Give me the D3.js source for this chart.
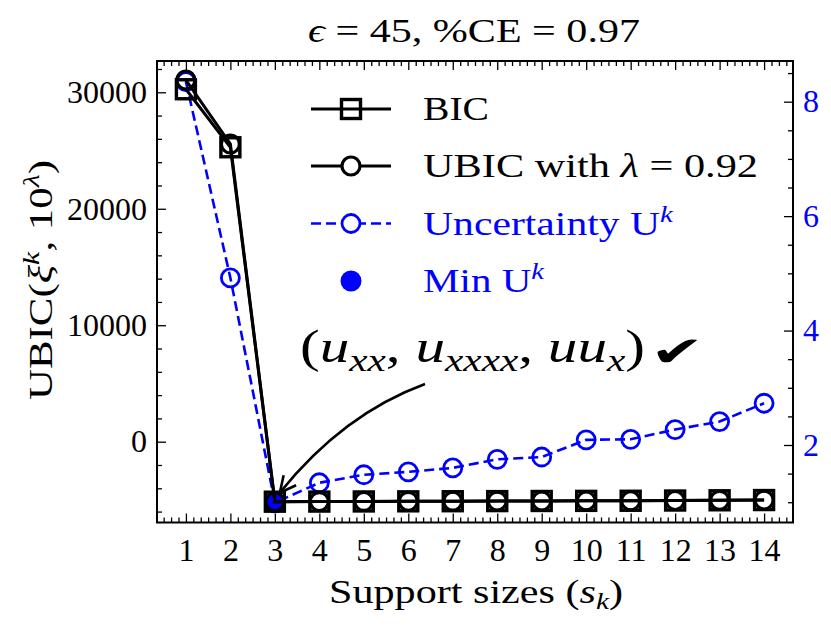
<!DOCTYPE html>
<html>
<head>
<meta charset="utf-8">
<script src="https://cdn.jsdelivr.net/npm/d3@7"></script>
<style>
body { margin: 0; background: #fff; }
text { font-family: "Liberation Serif", "DejaVu Serif", serif; }
</style>
</head>
<body>
<div id="chart-area"></div>
<script>
// values
var sizes = [1, 2, 3, 4, 5, 6, 7, 8, 9, 10, 11, 12, 13, 14];
var bic = [30260, 25280, -5150, -5140, -5130, -5120, -5110, -5100, -5090, -5080, -5070, -5050, -5030, -5010];
var ubic = [31050, 25560, -5150, -5140, -5130, -5120, -5110, -5100, -5090, -5080, -5070, -5050, -5030, -5010];
var uncertainty = [8.35, 4.92, 0.99, 1.34, 1.48, 1.53, 1.60, 1.75, 1.79, 2.09, 2.10, 2.27, 2.41, 2.73];
var leftTicks = [0, 10000, 20000, 30000];
var rightTicks = [2, 4, 6, 8];
var minSize = 3;

var blue = "#0000ff";
var margin = { left: 157, right: 38, top: 61, bottom: 104.5 };
var width = 831 - margin.left - margin.right;
var height = 627 - margin.top - margin.bottom;

var svg = d3.select("#chart-area").append("svg")
    .attr("width", 831)
    .attr("height", 627);

var g = svg.append("g")
    .attr("transform", `translate(${margin.left}, ${margin.top})`);

var x = d3.scaleLinear().domain([0.35, 14.65]).range([0, width]);
var y = d3.scaleLinear().domain([-6937, 32686]).range([height, 0]);
var y2 = d3.scaleLinear().domain([0.6456, 8.711]).range([height, 0]);

// minor tick positions
var xMinor = [];
for (var k = 3; k <= 87; k++) {
    if (k % 6 !== 0) xMinor.push(k / 6);
}
var yMinor = [];
for (var v = -6000; v <= 32000; v += 2000) {
    if (v % 10000 !== 0) yMinor.push(v);
}
var y2Minor = [];
for (var w = 1; w <= 8.5; w += 0.5) {
    if (w % 2 !== 0) y2Minor.push(w);
}

function styleAxis(sel) {
    sel.select(".domain").remove();
    sel.selectAll("line").attr("stroke", "#000").attr("stroke-width", 1.3);
    sel.selectAll("text")
        .attr("font-family", "Liberation Serif, DejaVu Serif, serif")
        .attr("font-size", 32)
        .attr("fill", "#000");
}

// bottom
g.append("g")
    .attr("transform", `translate(0, ${height})`)
    .call(d3.axisBottom(x).tickValues(sizes).tickSizeInner(-9).tickSizeOuter(0).tickPadding(16).tickFormat(d3.format("d")))
    .call(styleAxis);
g.append("g")
    .attr("transform", `translate(0, ${height})`)
    .call(d3.axisBottom(x).tickValues(xMinor).tickSizeInner(-5).tickSizeOuter(0).tickFormat(""))
    .call(styleAxis);
// top
g.append("g")
    .call(d3.axisTop(x).tickValues(sizes).tickSizeInner(-9).tickSizeOuter(0).tickFormat(""))
    .call(styleAxis);
g.append("g")
    .call(d3.axisTop(x).tickValues(xMinor).tickSizeInner(-5).tickSizeOuter(0).tickFormat(""))
    .call(styleAxis);
// left
g.append("g")
    .call(d3.axisLeft(y).tickValues(leftTicks).tickSizeInner(-9).tickSizeOuter(0).tickPadding(10).tickFormat(d3.format("d")))
    .call(styleAxis);
g.append("g")
    .call(d3.axisLeft(y).tickValues(yMinor).tickSizeInner(-5).tickSizeOuter(0).tickFormat(""))
    .call(styleAxis);
// right
g.append("g")
    .attr("transform", `translate(${width}, 0)`)
    .call(d3.axisRight(y2).tickValues(rightTicks).tickSizeInner(-9).tickSizeOuter(0).tickPadding(10).tickFormat(d3.format("d")))
    .call(styleAxis)
    .selectAll("text").attr("fill", blue);
g.append("g")
    .attr("transform", `translate(${width}, 0)`)
    .call(d3.axisRight(y2).tickValues(y2Minor).tickSizeInner(-5).tickSizeOuter(0).tickFormat(""))
    .call(styleAxis);

// uncertainty (twin axis) drawn first, black series lie on top
var blueLine = d3.line().x((d, i) => x(sizes[i])).y(d => y2(d));
g.append("path")
    .datum(uncertainty)
    .attr("d", blueLine)
    .attr("fill", "none")
    .attr("stroke", blue)
    .attr("stroke-width", 2.6)
    .attr("stroke-dasharray", "10,5");
g.selectAll(".ucirc")
    .data(uncertainty)
    .enter().append("circle")
    .attr("class", "ucirc")
    .attr("cx", (d, i) => x(sizes[i]))
    .attr("cy", d => y2(d))
    .attr("r", 9)
    .attr("fill", "none")
    .attr("stroke", blue)
    .attr("stroke-width", 2.8);

g.append("circle")
    .attr("cx", x(minSize))
    .attr("cy", y2(uncertainty[sizes.indexOf(minSize)]))
    .attr("r", 10)
    .attr("fill", blue);

var blackLine = d3.line().x((d, i) => x(sizes[i])).y(d => y(d));
g.append("path")
    .datum(bic)
    .attr("d", blackLine)
    .attr("fill", "none")
    .attr("stroke", "#000")
    .attr("stroke-width", 3);
g.selectAll(".bsq")
    .data(bic)
    .enter().append("rect")
    .attr("class", "bsq")
    .attr("x", (d, i) => x(sizes[i]) - 9.5)
    .attr("y", d => y(d) - 9.5)
    .attr("width", 19)
    .attr("height", 19)
    .attr("fill", "none")
    .attr("stroke", "#000")
    .attr("stroke-width", 3.4);

g.append("path")
    .datum(ubic)
    .attr("d", blackLine)
    .attr("fill", "none")
    .attr("stroke", "#000")
    .attr("stroke-width", 3);
g.selectAll(".ucircle")
    .data(ubic)
    .enter().append("circle")
    .attr("class", "ucircle")
    .attr("cx", (d, i) => x(sizes[i]))
    .attr("cy", d => y(d))
    .attr("r", 9)
    .attr("fill", "none")
    .attr("stroke", "#000")
    .attr("stroke-width", 3.2);

// frame
g.append("rect")
    .attr("width", width)
    .attr("height", height)
    .attr("fill", "none")
    .attr("stroke", "#000")
    .attr("stroke-width", 2);

// legend
var legend = svg.append("g");
var rows = [
    { y: 109, color: "#000", mark: "square", dash: null },
    { y: 166, color: "#000", mark: "circle", dash: null },
    { y: 223.5, color: blue, mark: "circle", dash: "10,5" },
    { y: 281, color: blue, mark: "dot", dash: null }
];
rows.forEach(r => {
    if (r.mark !== "dot") {
        legend.append("line")
            .attr("x1", 311).attr("x2", 391)
            .attr("y1", r.y).attr("y2", r.y)
            .attr("stroke", r.color)
            .attr("stroke-width", r.dash ? 2.6 : 3)
            .attr("stroke-dasharray", r.dash);
    }
    if (r.mark === "square") {
        legend.append("rect")
            .attr("x", 351 - 9.5).attr("y", r.y - 9.5)
            .attr("width", 19).attr("height", 19)
            .attr("fill", "none").attr("stroke", "#000").attr("stroke-width", 3.4);
    } else if (r.mark === "circle") {
        legend.append("circle")
            .attr("cx", 351).attr("cy", r.y).attr("r", 9)
            .attr("fill", "#fff").attr("stroke", r.color).attr("stroke-width", r.color === blue ? 2.8 : 3.2);
    } else {
        legend.append("circle")
            .attr("cx", 351).attr("cy", r.y).attr("r", 10.5)
            .attr("fill", blue);
    }
});

function stretch(sel, len) {
    sel.attr("textLength", len).attr("lengthAdjust", "spacingAndGlyphs");
}

var lt1 = legend.append("text").attr("x", 423).attr("y", 120).attr("font-size", 33).text("BIC");
stretch(lt1, 66);
var lt2 = legend.append("text").attr("x", 423).attr("y", 177).attr("font-size", 33);
lt2.append("tspan").text("UBIC with ");
lt2.append("tspan").attr("font-style", "italic").text("λ");
lt2.append("tspan").text(" = 0.92");
stretch(lt2, 335);
var lt3 = legend.append("text").attr("x", 423).attr("y", 235).attr("font-size", 33).attr("fill", blue);
lt3.append("tspan").text("Uncertainty U");
lt3.append("tspan").attr("font-style", "italic").attr("font-size", 23).attr("dy", -13).text("k");
stretch(lt3, 250);
var lt4 = legend.append("text").attr("x", 423).attr("y", 292).attr("font-size", 33).attr("fill", blue);
lt4.append("tspan").text("Min U");
lt4.append("tspan").attr("font-style", "italic").attr("font-size", 23).attr("dy", -13).text("k");
stretch(lt4, 121);

// title
var title = svg.append("text")
    .attr("x", 308)
    .attr("y", 42)
    .attr("font-size", 33);
title.append("tspan").attr("font-style", "italic").text("ϵ");
title.append("tspan").text(" = 45, %CE = 0.97");
stretch(title, 332);

// x label
var xl = svg.append("text")
    .attr("x", 329)
    .attr("y", 603)
    .attr("font-size", 33);
xl.append("tspan").text("Support sizes (");
xl.append("tspan").attr("font-style", "italic").text("s");
xl.append("tspan").attr("font-style", "italic").attr("font-size", 23).attr("dy", 6).text("k");
xl.append("tspan").attr("dy", -6).text(")");
stretch(xl, 294);

// y label
var yl = svg.append("text")
    .attr("transform", "translate(52, 400) rotate(-90)")
    .attr("font-size", 33);
yl.append("tspan").text("UBIC(");
yl.append("tspan").attr("font-style", "italic").text("ξ");
yl.append("tspan").attr("font-style", "italic").attr("font-size", 23).attr("dy", -13).text("k");
yl.append("tspan").attr("dy", 13).text(", 10");
yl.append("tspan").attr("font-style", "italic").attr("font-size", 23).attr("dy", -13).text("λ");
yl.append("tspan").attr("dy", 13).text(")");
stretch(yl, 240);

// annotation
var ann = svg.append("text")
    .attr("x", 300)
    .attr("y", 362)
    .attr("font-size", 46);
ann.append("tspan").text("(");
ann.append("tspan").attr("font-style", "italic").text("u");
ann.append("tspan").attr("font-style", "italic").attr("font-size", 32).attr("dy", 9).text("xx");
ann.append("tspan").attr("dy", -9).text(", ");
ann.append("tspan").attr("font-style", "italic").text("u");
ann.append("tspan").attr("font-style", "italic").attr("font-size", 32).attr("dy", 9).text("xxxx");
ann.append("tspan").attr("dy", -9).text(", ");
ann.append("tspan").attr("font-style", "italic").text("uu");
ann.append("tspan").attr("font-style", "italic").attr("font-size", 32).attr("dy", 9).text("x");
ann.append("tspan").attr("dy", -9).text(")");
stretch(ann, 345);
var check = svg.append("text")
    .attr("x", 650)
    .attr("y", 366)
    .attr("font-family", "DejaVu Sans")
    .attr("font-size", 42)
    .text("✔");
stretch(check, 54);

svg.append("defs").append("marker")
    .attr("id", "head")
    .attr("viewBox", "0 0 20 20")
    .attr("refX", 18).attr("refY", 10)
    .attr("markerWidth", 20).attr("markerHeight", 20)
    .attr("markerUnits", "userSpaceOnUse")
    .attr("orient", "auto")
    .append("path")
    .attr("d", "M2,2 L18,10 L2,18")
    .attr("fill", "none")
    .attr("stroke", "#000")
    .attr("stroke-width", 2.6);

var tipX = x(minSize) + 5, tipY = y(bic[sizes.indexOf(minSize)]) - 9;
svg.append("path")
    .attr("d", `M425,384 Q343,414 ${tipX + margin.left},${tipY + margin.top}`)
    .attr("fill", "none")
    .attr("stroke", "#000")
    .attr("stroke-width", 2.6)
    .attr("marker-end", "url(#head)");
</script>
</body>
</html>
